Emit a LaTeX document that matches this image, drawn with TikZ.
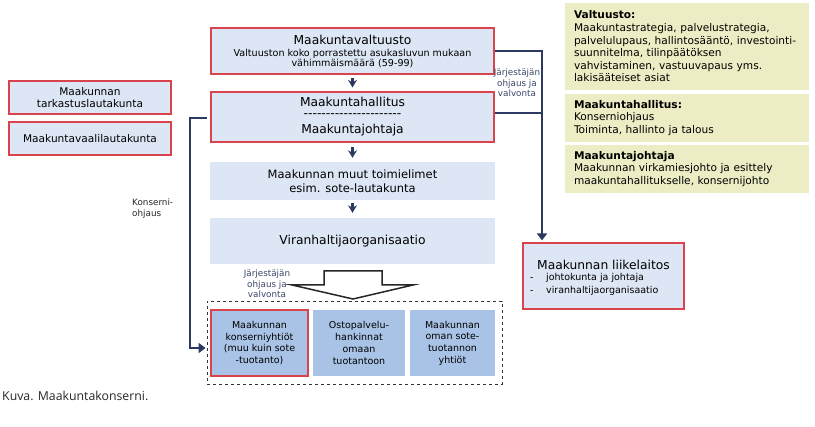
\documentclass[tikz,border=0pt]{standalone}
\usepackage{fontspec}
\setmainfont{DejaVu Sans}
\newfontfamily\capfont{Open Sans}
\usetikzlibrary{arrows.meta}
\definecolor{lblue}{HTML}{DCE6F4}
\definecolor{mblue}{HTML}{A9C3E6}
\definecolor{bred}{HTML}{D9434B}
\definecolor{navy}{HTML}{2C3960}
\definecolor{ylw}{HTML}{ECEDC4}
\definecolor{lbl}{HTML}{3A4668}
\newcommand\fzA{\fontsize{12.3}{14}\selectfont}
\newcommand\fzB{\fontsize{11.5}{14}\selectfont}
\newcommand\fzC{\fontsize{9.6}{10.5}\selectfont}
\newcommand\fzD{\fontsize{10.6}{12.6}\selectfont}
\newcommand\fzE{\fontsize{9.5}{11.7}\selectfont}
\newcommand\fzF{\fontsize{8.8}{10.6}\selectfont}
\tikzset{
  mainbox/.style={fill=lblue, draw=bred, line width=1.1pt, inner sep=0pt, align=center},
  plainbox/.style={fill=lblue, inner sep=0pt, align=center},
  subbox/.style={fill=mblue, inner sep=0pt, align=center, minimum height=66pt, font=\fzE},
  annot/.style={fill=ylw, inner xsep=9pt, inner ysep=0pt, align=left, text width=226pt, minimum width=244pt, font=\fzD},
  conn/.style={draw=navy, line width=2.8pt, -{Triangle[length=7pt,width=10pt]}},
  connplain/.style={draw=navy, line width=2.8pt},
  smallarr/.style={draw=navy, line width=2.4pt, -{Stealth[length=7.5pt,width=9pt]}},
  lbltext/.style={text=lbl, font=\fzF, align=center, inner sep=0pt},
}
\begin{document}
\begin{tikzpicture}[x=1pt,y=-1pt]
\useasboundingbox (0,0) rectangle (815,427);

% main column
\node[mainbox, minimum width=283pt, minimum height=46pt] (mv) at (352.5,51) {};
\node[font=\fzA, inner sep=0pt] (mvt) at (352.5,40) {Maakuntavaltuusto};
\node[font=\fzC, inner sep=0pt, align=center] (mvs) at (352.5,58.5)
  {Valtuuston koko porrastettu asukasluvun mukaan\\vähimmäismäärä (59-99)};
\node[mainbox, minimum width=283pt, minimum height=50pt] (mh) at (352.5,117) {};
\node[font=\fzA, inner sep=0pt] (mht) at (352.5,102) {Maakuntahallitus};
\node[font=\fzA, inner sep=0pt] (mhd) at (352.5,116) {-{}-{}-{}-{}-{}-{}-{}-{}-{}-{}-{}-{}-{}-{}-{}-{}-{}-{}-{}-{}-{}-};
\node[font=\fzA, inner sep=0pt] (mhj) at (352.5,130) {Maakuntajohtaja};
\node[plainbox, minimum width=285pt, minimum height=38pt, font=\fzB] (mt) at (352.5,181)
  {Maakunnan muut toimielimet\\esim. sote-lautakunta};
\node[plainbox, minimum width=285pt, minimum height=46pt, font=\fzA] (vo) at (352.5,241)
  {Viranhaltijaorganisaatio};

\draw[smallarr, shorten <=3pt, shorten >=4pt] (mv.south) -- (mh.north);
\draw[smallarr, shorten <=4pt, shorten >=4pt] (mh.south) -- (mt.north);
\draw[smallarr, shorten <=3pt, shorten >=5pt] (mt.south) -- (vo.north);

% big open arrow
\draw[draw=black!85, line width=1.5pt, fill=white, line join=miter]
  (324,285) -- (324,271) -- (382,271) -- (382,285) -- (413,285) -- (353,299) -- (292,285) -- cycle;
\node[lbltext] (jov2) at (267,284) {Järjestäjän\\ohjaus ja\\valvonta};

% dashed group
\node[draw=black!80, dashed, line width=0.9pt, minimum width=295pt, minimum height=83pt, inner sep=0pt] (dbox) at (354.5,342.5) {};
\node[subbox, draw=bred, line width=1.1pt, minimum width=97pt] (b1) at (259.5,343)
  {Maakunnan\\konserniyhtiöt\\(muu kuin sote\\-tuotanto)};
\node[subbox, minimum width=92pt] (b2) at (359,343)
  {Ostopalvelu-\\hankinnat\\omaan\\tuotantoon};
\node[subbox, minimum width=85pt] (b3) at (452.5,343)
  {Maakunnan\\oman sote-\\tuotannon\\yhtiöt};

% left boxes
\node[mainbox, minimum width=162pt, minimum height=33pt, font=\fzD] (tark) at (90,97.5)
  {Maakunnan\\tarkastuslautakunta};
\node[mainbox, minimum width=162pt, minimum height=33pt, font=\fzD] (vaali) at (90,138.5)
  {Maakuntavaalilautakunta};
\node[text=black!85, font=\fzF, align=left, inner sep=0pt, anchor=north west] (kohj) at (132,199)
  {Konserni-\\ohjaus};

% left connector
\coordinate (kl) at (190,118);
\draw[conn, shorten <=3pt, shorten >=1pt] (mh.west |- kl) -- (kl) |- ([yshift=-5.5pt]dbox.west);

% right boxes
\node[annot, minimum height=87pt] (av) at (687,46.5)
  {\textbf{Valtuusto:}\\Maakuntastrategia, palvelustrategia,\\palvelulupaus, hallintosääntö, investointi-\\suunnitelma, tilinpäätöksen\\vahvistaminen, vastuuvapaus yms.\\lakisääteiset asiat};
\node[annot, minimum height=48pt] (ah) at (687,118)
  {\textbf{Maakuntahallitus:}\\Konserniohjaus\\Toiminta, hallinto ja talous};
\node[annot, minimum height=48pt] (aj) at (687,169)
  {\textbf{Maakuntajohtaja}\\Maakunnan virkamiesjohto ja esittely\\maakuntahallitukselle, konsernijohto};

% liikelaitos
\node[mainbox, minimum width=161pt, minimum height=66pt] (liike) at (603.5,276) {};
\node[font=\fzA, inner sep=0pt] (lt) at (603.5,265) {Maakunnan liikelaitos};
\node[font=\fzE, inner sep=0pt, anchor=west] (l1) at (530,278) {\makebox[16pt][l]{-}johtokunta ja johtaja};
\node[font=\fzE, inner sep=0pt, anchor=west] (l2) at (530,291) {\makebox[16pt][l]{-}viranhaltijaorganisaatio};

% right connector
\coordinate (rj) at (542,51);
\draw[connplain, line cap=butt] (mv.east) -- (rj);
\draw[connplain] ([yshift=4pt]mh.east) -- ([yshift=4pt]mh.east -| rj);
\draw[conn, shorten >=2pt] ([yshift=1.4pt]rj) -- (liike.north -| rj);
\node[lbltext] (jov1) at (517,83) {Järjestäjän\\ohjaus ja\\valvonta};

% caption
\node[font=\capfont\fontsize{12.3}{14}\selectfont, text=black!85, anchor=west, inner sep=0pt] (cap) at (2,396) {Kuva. Maakuntakonserni.};
\end{tikzpicture}
\end{document}
